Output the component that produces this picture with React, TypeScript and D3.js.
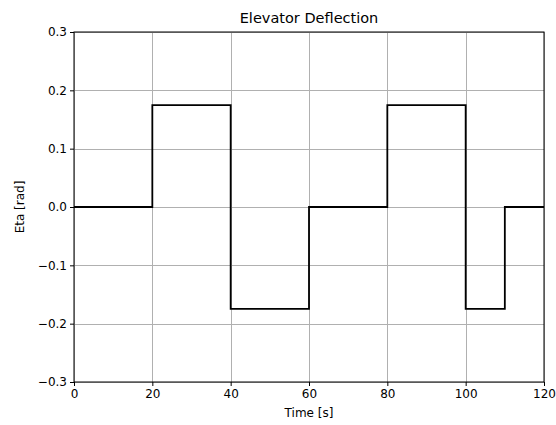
import React, { useEffect, useRef } from "react";
import * as d3 from "d3";

// elevator input: step changes at these times
const times = [0, 20, 40, 60, 80, 100, 110, 120];
const eta = [0, 0.1745, -0.1745, 0, 0.1745, -0.1745, 0, 0];
const xTicks = [0, 20, 40, 60, 80, 100, 120];
const yTicks = [-0.3, -0.2, -0.1, 0.0, 0.1, 0.2, 0.3];

export default function App() {
  const ref = useRef<SVGSVGElement>(null);

  useEffect(() => {
    const width = 556;
    const height = 425;
    const margin = { top: 32, right: 12, bottom: 43, left: 74 };
    const font = "DejaVu Sans, sans-serif";

    const svg = d3.select(ref.current);
    svg.selectAll("*").remove();
    svg.attr("width", width).attr("height", height);

    svg.append("rect").attr("width", width).attr("height", height).attr("fill", "#fff");

    const x = d3.scaleLinear().domain([0, 120]).range([margin.left, width - margin.right]);
    const y = d3.scaleLinear().domain([-0.3, 0.3]).range([height - margin.bottom, margin.top]);

    // grid
    const grid = svg.append("g").attr("stroke", "#b0b0b0").attr("stroke-width", 1);
    grid
      .selectAll(".gx")
      .data(xTicks)
      .join("line")
      .attr("x1", d => Math.round(x(d)) + 0.5)
      .attr("x2", d => Math.round(x(d)) + 0.5)
      .attr("y1", y(-0.3))
      .attr("y2", y(0.3));
    grid
      .selectAll(".gy")
      .data(yTicks)
      .join("line")
      .attr("x1", x(0))
      .attr("x2", x(120))
      .attr("y1", d => Math.round(y(d)) + 0.5)
      .attr("y2", d => Math.round(y(d)) + 0.5);

    // step line
    const line = d3
      .line<number>()
      .x((d, i) => x(times[i]))
      .y(d => y(d))
      .curve(d3.curveStepAfter);
    svg
      .append("path")
      .datum(eta)
      .attr("d", line)
      .attr("fill", "none")
      .attr("stroke", "#000")
      .attr("stroke-width", 1.8);

    // axes
    const fmtY = (d: number) => d3.format(".1f")(d).replace("-", "\u2212");
    const ax = svg
      .append("g")
      .attr("transform", `translate(0,${height - margin.bottom})`)
      .call(d3.axisBottom(x).tickValues(xTicks).tickSize(4).tickPadding(3).tickFormat(d3.format("d")));
    const ay = svg
      .append("g")
      .attr("transform", `translate(${margin.left},0)`)
      .call(d3.axisLeft(y).tickValues(yTicks).tickSize(4).tickPadding(3).tickFormat(d => fmtY(+d)));
    [ax, ay].forEach(g => {
      g.select(".domain").remove();
      g.selectAll("line").attr("stroke", "#000").attr("stroke-width", 1);
      g.selectAll("text").attr("fill", "#000").style("font-family", font).style("font-size", "12px");
    });

    // frame
    svg
      .append("rect")
      .attr("x", x(0))
      .attr("y", y(0.3))
      .attr("width", x(120) - x(0))
      .attr("height", y(-0.3) - y(0.3))
      .attr("fill", "none")
      .attr("stroke", "#000")
      .attr("stroke-width", 1);

    svg
      .append("text")
      .attr("x", (x(0) + x(120)) / 2)
      .attr("y", margin.top - 9)
      .attr("text-anchor", "middle")
      .style("font-family", font)
      .style("font-size", "14.5px")
      .text("Elevator Deflection");

    svg
      .append("text")
      .attr("x", (x(0) + x(120)) / 2)
      .attr("y", height - 8)
      .attr("text-anchor", "middle")
      .style("font-family", font)
      .style("font-size", "12px")
      .text("Time [s]");

    svg
      .append("text")
      .attr("transform", `translate(24,${(y(0.3) + y(-0.3)) / 2}) rotate(-90)`)
      .attr("text-anchor", "middle")
      .style("font-family", font)
      .style("font-size", "12px")
      .text("Eta [rad]");
  }, []);

  return <svg ref={ref} style={{ position: "absolute", left: 0, top: 0 }}></svg>;
}
